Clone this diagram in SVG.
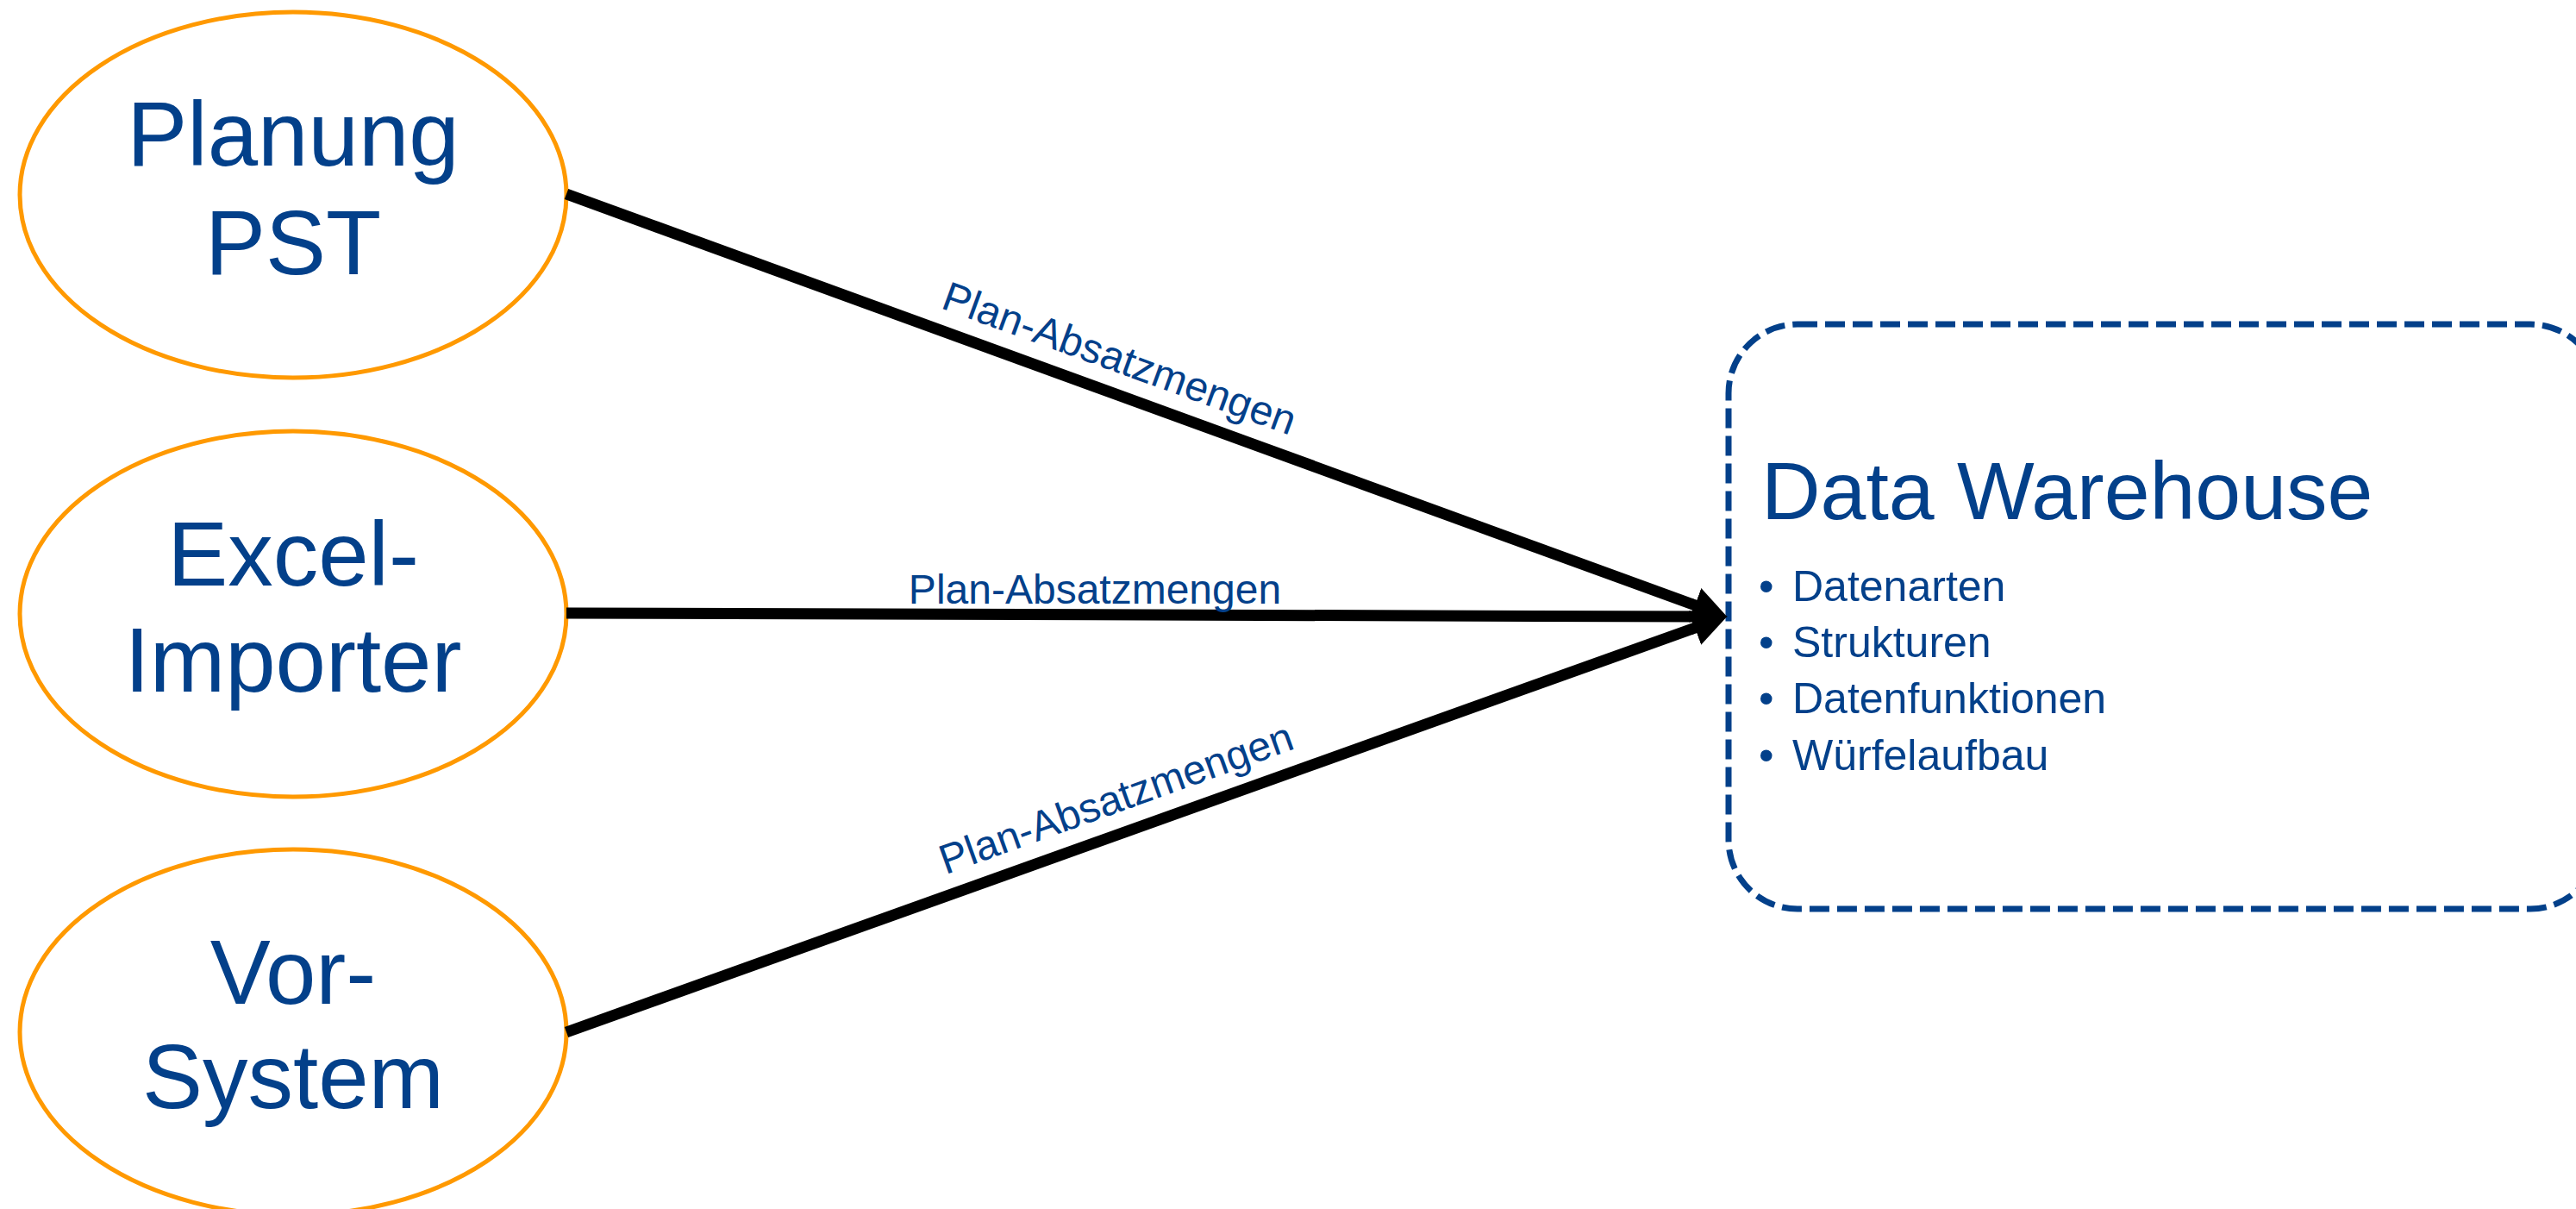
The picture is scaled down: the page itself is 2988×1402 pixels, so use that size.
<svg xmlns="http://www.w3.org/2000/svg" width="2988" height="1402" viewBox="0 0 2988 1402">
<style>
.src ellipse{fill:#ffffff;stroke:#FF9900;stroke-width:5}
.big{font-family:"Liberation Sans",Arial,sans-serif;font-size:105px;fill:#03408A;text-anchor:middle}
.lbl{font-family:"Liberation Sans",Arial,sans-serif;font-size:48px;fill:#03408A;text-anchor:middle}
.conn line{stroke:#000000;stroke-width:13;marker-end:url(#arr)}
.dw rect{fill:none;stroke:#03408A;stroke-width:7;stroke-dasharray:23 9}
.title{font-family:"Liberation Sans",Arial,sans-serif;font-size:95px;fill:#03408A}
.item{font-family:"Liberation Sans",Arial,sans-serif;font-size:50px;fill:#03408A}
</style>
<defs>
<marker id="arr" markerUnits="userSpaceOnUse" markerWidth="40" markerHeight="42" viewBox="0 0 40 42" refX="18" refY="21" orient="auto">
<path d="M0,0 L40,21 L0,42 z" fill="#000000"/>
</marker>
</defs>
<rect x="0" y="0" width="2988" height="1402" fill="#ffffff"/>
<g id="node-planung" class="src">
<ellipse cx="340" cy="226" rx="317" ry="212"/>
<text class="big" x="340" y="192">Planung</text>
<text class="big" x="340" y="318">PST</text>
</g>
<g id="node-excel" class="src">
<ellipse cx="340" cy="712" rx="317" ry="212"/>
<text class="big" x="340" y="679">Excel-</text>
<text class="big" x="340" y="802">Importer</text>
</g>
<g id="node-vorsystem" class="src">
<ellipse cx="340" cy="1197" rx="317" ry="212"/>
<text class="big" x="340" y="1164">Vor-</text>
<text class="big" x="340" y="1285">System</text>
</g>
<g id="node-dw" class="dw">
<rect x="2005" y="376" width="1010" height="678" rx="80" ry="80"/>
<text class="title" x="2043" y="602">Data Warehouse</text>
<text class="item" x="2040" y="697">•</text><text class="item" x="2079" y="697">Datenarten</text>
<text class="item" x="2040" y="762">•</text><text class="item" x="2079" y="762">Strukturen</text>
<text class="item" x="2040" y="827">•</text><text class="item" x="2079" y="827">Datenfunktionen</text>
<text class="item" x="2040" y="893">•</text><text class="item" x="2079" y="893">Würfelaufbau</text>
</g>
<g id="connectors" class="conn">
<line x1="657" y1="225" x2="1983" y2="708"/>
<line x1="657" y1="711" x2="1981" y2="715"/>
<line x1="657" y1="1197" x2="1983" y2="722"/>
<text class="lbl" x="1293" y="431" transform="rotate(20 1293 431)">Plan-Absatzmengen</text>
<text class="lbl" x="1270" y="700">Plan-Absatzmengen</text>
<text class="lbl" x="1300" y="941" transform="rotate(-19.8 1300 941)">Plan-Absatzmengen</text>
</g>
</svg>
